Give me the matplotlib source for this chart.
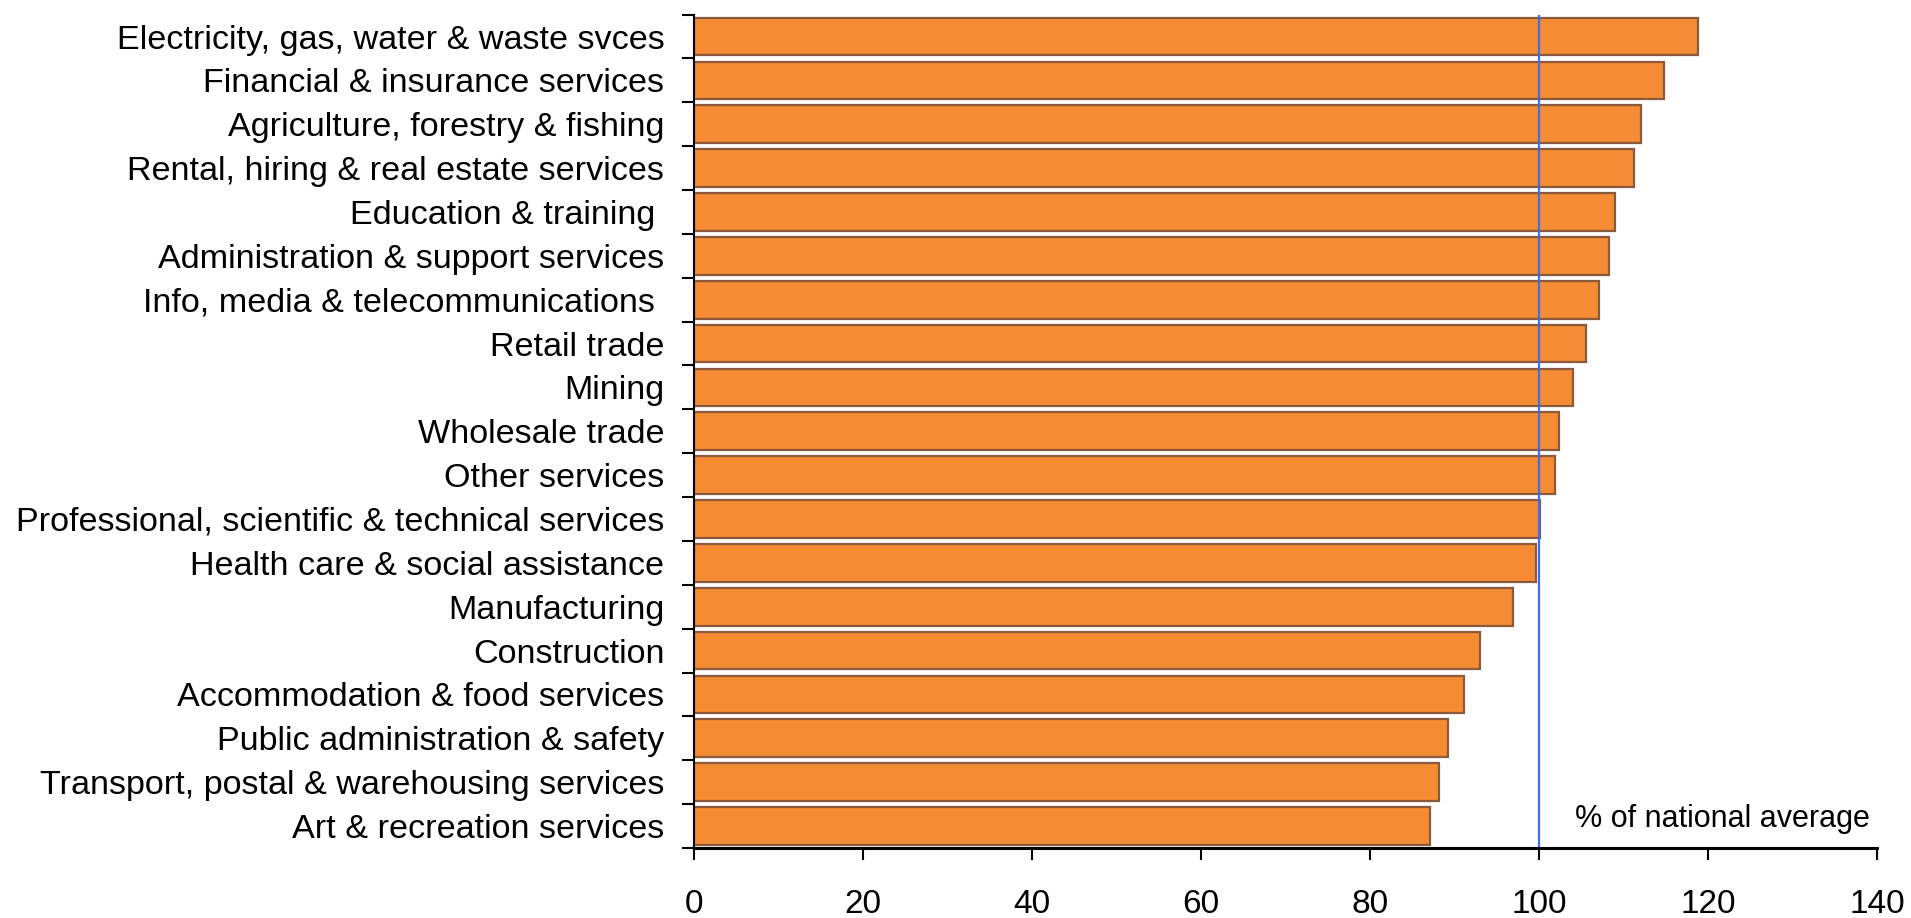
import numpy as np
import matplotlib
matplotlib.use("Agg")
import matplotlib.pyplot as plt

# Industry values, % of national average (top to bottom as in the chart)
industries = [
    "Electricity, gas, water & waste svces",
    "Financial & insurance services",
    "Agriculture, forestry & fishing",
    "Rental, hiring & real estate services",
    "Education & training ",
    "Administration & support services",
    "Info, media & telecommunications ",
    "Retail trade",
    "Mining",
    "Wholesale trade",
    "Other services",
    "Professional, scientific & technical services",
    "Health care & social assistance",
    "Manufacturing",
    "Construction",
    "Accommodation & food services",
    "Public administration & safety",
    "Transport, postal & warehousing services",
    "Art & recreation services",
]
values = [118.8, 114.8, 112.1, 111.2, 109.0, 108.3, 107.1, 105.6, 104.0, 102.4,
          101.9, 100.1, 99.7, 97.0, 93.0, 91.2, 89.2, 88.2, 87.1]
national_avg = 100
x_ticks = [0, 20, 40, 60, 80, 100, 120, 140]

plt.rcParams['font.family'] = ['Liberation Sans', 'DejaVu Sans']

fig = plt.figure(figsize=(19.11, 9.18), dpi=100)
ax = fig.add_axes([0.3629, 0.0763, 0.6193, 0.9078])

pos = np.arange(len(industries))
ax.barh(pos, values, height=0.86, color='#F58B33', edgecolor='#8B5A3C', linewidth=1.6)
ax.axvline(national_avg, color='#3F6BF0', linewidth=1.6)

ax.set_xlim(0, 140)
ax.set_ylim(len(industries) - 0.5, -0.5)
ax.set_xticks(x_ticks)

# tick marks between bars, labels centred on bars
ax.set_yticks(np.arange(-0.5, len(industries)))
ax.set_yticks(pos, minor=True)
ax.set_yticklabels(industries, minor=True)
ax.tick_params(axis='y', which='major', length=8.5, width=1.5, labelleft=False)
ax.tick_params(axis='y', which='minor', length=0, pad=21, labelsize=24.6)
ax.tick_params(axis='x', length=8.6, width=1.5, pad=21, labelsize=24)

ax.spines['top'].set_visible(False)
ax.spines['right'].set_visible(False)
ax.spines['left'].set_linewidth(1.5)
ax.spines['bottom'].set_linewidth(2.2)

ax.text(139.2, 17.85, "% of national average", ha='right', va='center', fontsize=22)

fig.savefig("out.png", dpi=100)
